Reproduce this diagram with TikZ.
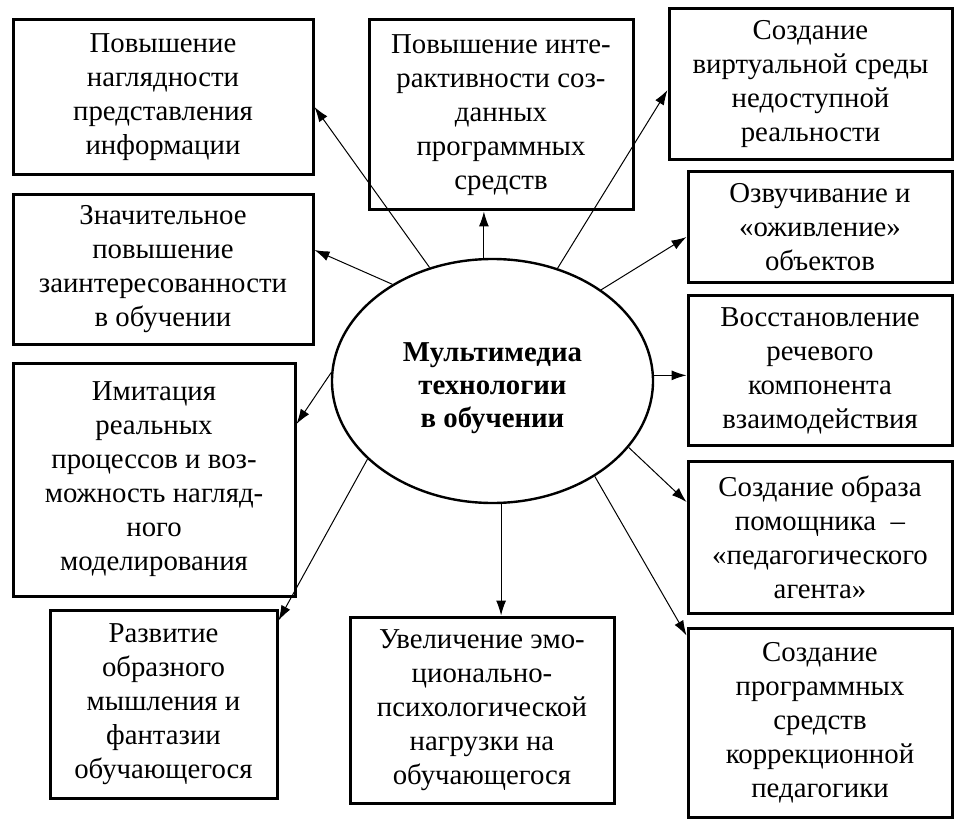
\documentclass[tikz,border=0pt]{standalone}
\usepackage{fontspec}
\setmainfont{Liberation Serif}
\usetikzlibrary{arrows.meta,calc,shapes.geometric}

\begin{document}
\begin{tikzpicture}
  [x=0.5pt,y=-0.5pt,
   every node/.style={font=\fontsize{14.4}{17}\selectfont,align=center,inner sep=0pt},
   box/.style={draw,line width=1.5pt,rectangle},
   hub/.style={draw,ellipse,line width=1.2pt,minimum width=160.5pt,minimum height=122pt},
   hubtext/.style={font=\fontsize{14.4}{16.5}\selectfont\bfseries},
   arr/.style={line width=0.5pt,-{Latex[length=7.5pt,width=5pt]}}]
  \useasboundingbox (0,0) rectangle (960,829);
  \node[hub] (m) at (492.5,381) {};
  \node[hubtext] (mt) at ($(m.center)+(0,7)$) {Мультимедиа\\технологии\\в обучении};
  \node[box,minimum width=150pt,minimum height=77.5pt] (b1) at (163,97.5) {Повышение\\наглядности\\представления\\информации};
  \node[box,minimum width=150pt,minimum height=74.5pt] (b2) at (163,269.5) {Значительное\\повышение\\заинтересованности\\в обучении};
  \node[box,minimum width=141pt,minimum height=116.5pt] (b3) at (154,479.5) {Имитация\\реальных\\процессов и воз-\\можность нагляд-\\ного\\моделирования};
  \node[box,minimum width=113.5pt,minimum height=94pt] (b4) at (163.5,704) {Развитие\\образного\\мышления и\\фантазии\\обучающегося};
  \node[box,minimum width=132pt,minimum height=93pt] (b5) at (482,710) {Увеличение эмо-\\ционально-\\психологической\\нагрузки на\\обучающегося};
  \node[box,minimum width=132pt,minimum height=95pt] (b6) at (501,115) {Повышение инте-\\рактивности соз-\\данных\\программных\\средств};
  \node[box,minimum width=141.5pt,minimum height=75.5pt] (b7) at (810.5,84.5) {Создание\\виртуальной среды\\недоступной\\реальности};
  \node[box,minimum width=132pt,minimum height=55.5pt] (b8) at (820,227.5) {Озвучивание и\\«оживление»\\объектов};
  \node[box,minimum width=132pt,minimum height=74.5pt] (b9) at (820,370.5) {Восстановление\\речевого\\компонента\\взаимодействия};
  \node[box,minimum width=132pt,minimum height=76pt] (b10) at (820,537) {Создание образа\\помощника~~–\\«педагогического\\агента»};
  \node[box,minimum width=132pt,minimum height=94.5pt] (b11) at (820,722.5) {Создание\\программных\\средств\\коррекционной\\педагогики};
  % arrow ends
  \coordinate (t1) at ($(b1.east)+(0,9.5)$);
  \coordinate (t2) at ($(b2.east)+(0,-19.5)$);
  \coordinate (t3) at ($(b3.east)+(0,-55.5)$);
  \coordinate (t4) at ($(b4.north east)+(0,12)$);
  \coordinate (t5) at (m.274 |- b5.north);
  \coordinate (t6) at (m.94.5 |- b6.south);
  \coordinate (t7) at ($(b7.west)+(0,5.5)$);
  \coordinate (t8) at ($(b8.west)+(0,9.5)$);
  \coordinate (t9) at (m.2.9 -| b9.west);
  \coordinate (t10) at ($(b10.west)+(0,-35)$);
  \coordinate (t11) at ($(b11.north west)+(0,9)$);
  \foreach \from/\to in {119.8/t1,136.9/t2,177.1/t3,212.2/t4,274/t5,94.5/t6,60.3/t7,40.8/t8,2.9/t9,334.4/t10,317.4/t11}
    \draw[arr] (m.\from) -- (\to);
\end{tikzpicture}
\end{document}
